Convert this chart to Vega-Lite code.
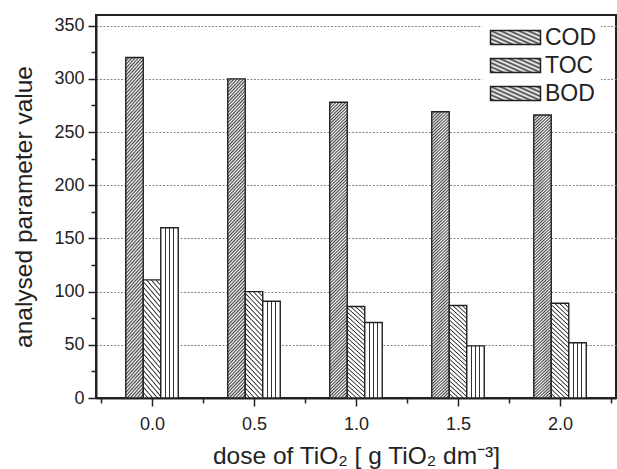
{
  "$schema": "https://vega.github.io/schema/vega-lite/v6.json",
  "width": 520,
  "height": 383,
  "autosize": "none",
  "padding": {"left": 96, "top": 15, "right": 1, "bottom": 71},
  "background": "white",
  "config": {"view": {"stroke": "#222", "strokeWidth": 2}, "font": "Liberation Sans"},
  "params": [
    {"name": "gCOD", "expr": "{id:'hatchCODbar',gradient:'linear',x1:0,y1:0,x2:0.0605,y2:1.0539,stops:[{offset:0,color:'#444'},{offset:0.005,color:'#fff'},{offset:0.01,color:'#444'},{offset:0.015,color:'#fff'},{offset:0.02,color:'#444'},{offset:0.025,color:'#fff'},{offset:0.03,color:'#444'},{offset:0.035,color:'#fff'},{offset:0.04,color:'#444'},{offset:0.045,color:'#fff'},{offset:0.05,color:'#444'},{offset:0.055,color:'#fff'},{offset:0.06,color:'#444'},{offset:0.065,color:'#fff'},{offset:0.07,color:'#444'},{offset:0.075,color:'#fff'},{offset:0.08,color:'#444'},{offset:0.085,color:'#fff'},{offset:0.09,color:'#444'},{offset:0.095,color:'#fff'},{offset:0.1,color:'#444'},{offset:0.105,color:'#fff'},{offset:0.11,color:'#444'},{offset:0.115,color:'#fff'},{offset:0.12,color:'#444'},{offset:0.125,color:'#fff'},{offset:0.13,color:'#444'},{offset:0.135,color:'#fff'},{offset:0.14,color:'#444'},{offset:0.145,color:'#fff'},{offset:0.15,color:'#444'},{offset:0.155,color:'#fff'},{offset:0.16,color:'#444'},{offset:0.165,color:'#fff'},{offset:0.17,color:'#444'},{offset:0.175,color:'#fff'},{offset:0.18,color:'#444'},{offset:0.185,color:'#fff'},{offset:0.19,color:'#444'},{offset:0.195,color:'#fff'},{offset:0.2,color:'#444'},{offset:0.205,color:'#fff'},{offset:0.21,color:'#444'},{offset:0.215,color:'#fff'},{offset:0.22,color:'#444'},{offset:0.225,color:'#fff'},{offset:0.23,color:'#444'},{offset:0.235,color:'#fff'},{offset:0.24,color:'#444'},{offset:0.245,color:'#fff'},{offset:0.25,color:'#444'},{offset:0.255,color:'#fff'},{offset:0.26,color:'#444'},{offset:0.265,color:'#fff'},{offset:0.27,color:'#444'},{offset:0.275,color:'#fff'},{offset:0.28,color:'#444'},{offset:0.285,color:'#fff'},{offset:0.29,color:'#444'},{offset:0.295,color:'#fff'},{offset:0.3,color:'#444'},{offset:0.305,color:'#fff'},{offset:0.31,color:'#444'},{offset:0.315,color:'#fff'},{offset:0.32,color:'#444'},{offset:0.325,color:'#fff'},{offset:0.33,color:'#444'},{offset:0.335,color:'#fff'},{offset:0.34,color:'#444'},{offset:0.345,color:'#fff'},{offset:0.35,color:'#444'},{offset:0.355,color:'#fff'},{offset:0.36,color:'#444'},{offset:0.365,color:'#fff'},{offset:0.37,color:'#444'},{offset:0.375,color:'#fff'},{offset:0.38,color:'#444'},{offset:0.385,color:'#fff'},{offset:0.39,color:'#444'},{offset:0.395,color:'#fff'},{offset:0.4,color:'#444'},{offset:0.405,color:'#fff'},{offset:0.41,color:'#444'},{offset:0.415,color:'#fff'},{offset:0.42,color:'#444'},{offset:0.425,color:'#fff'},{offset:0.43,color:'#444'},{offset:0.435,color:'#fff'},{offset:0.44,color:'#444'},{offset:0.445,color:'#fff'},{offset:0.45,color:'#444'},{offset:0.455,color:'#fff'},{offset:0.46,color:'#444'},{offset:0.465,color:'#fff'},{offset:0.47,color:'#444'},{offset:0.475,color:'#fff'},{offset:0.48,color:'#444'},{offset:0.485,color:'#fff'},{offset:0.49,color:'#444'},{offset:0.495,color:'#fff'},{offset:0.5,color:'#444'},{offset:0.505,color:'#fff'},{offset:0.51,color:'#444'},{offset:0.515,color:'#fff'},{offset:0.52,color:'#444'},{offset:0.525,color:'#fff'},{offset:0.53,color:'#444'},{offset:0.535,color:'#fff'},{offset:0.54,color:'#444'},{offset:0.545,color:'#fff'},{offset:0.55,color:'#444'},{offset:0.555,color:'#fff'},{offset:0.56,color:'#444'},{offset:0.565,color:'#fff'},{offset:0.57,color:'#444'},{offset:0.575,color:'#fff'},{offset:0.58,color:'#444'},{offset:0.585,color:'#fff'},{offset:0.59,color:'#444'},{offset:0.595,color:'#fff'},{offset:0.6,color:'#444'},{offset:0.605,color:'#fff'},{offset:0.61,color:'#444'},{offset:0.615,color:'#fff'},{offset:0.62,color:'#444'},{offset:0.625,color:'#fff'},{offset:0.63,color:'#444'},{offset:0.635,color:'#fff'},{offset:0.64,color:'#444'},{offset:0.645,color:'#fff'},{offset:0.65,color:'#444'},{offset:0.655,color:'#fff'},{offset:0.66,color:'#444'},{offset:0.665,color:'#fff'},{offset:0.67,color:'#444'},{offset:0.675,color:'#fff'},{offset:0.68,color:'#444'},{offset:0.685,color:'#fff'},{offset:0.69,color:'#444'},{offset:0.695,color:'#fff'},{offset:0.7,color:'#444'},{offset:0.705,color:'#fff'},{offset:0.71,color:'#444'},{offset:0.715,color:'#fff'},{offset:0.72,color:'#444'},{offset:0.725,color:'#fff'},{offset:0.73,color:'#444'},{offset:0.735,color:'#fff'},{offset:0.74,color:'#444'},{offset:0.745,color:'#fff'},{offset:0.75,color:'#444'},{offset:0.755,color:'#fff'},{offset:0.76,color:'#444'},{offset:0.765,color:'#fff'},{offset:0.77,color:'#444'},{offset:0.775,color:'#fff'},{offset:0.78,color:'#444'},{offset:0.785,color:'#fff'},{offset:0.79,color:'#444'},{offset:0.795,color:'#fff'},{offset:0.8,color:'#444'},{offset:0.805,color:'#fff'},{offset:0.81,color:'#444'},{offset:0.815,color:'#fff'},{offset:0.82,color:'#444'},{offset:0.825,color:'#fff'},{offset:0.83,color:'#444'},{offset:0.835,color:'#fff'},{offset:0.84,color:'#444'},{offset:0.845,color:'#fff'},{offset:0.85,color:'#444'},{offset:0.855,color:'#fff'},{offset:0.86,color:'#444'},{offset:0.865,color:'#fff'},{offset:0.87,color:'#444'},{offset:0.875,color:'#fff'},{offset:0.88,color:'#444'},{offset:0.885,color:'#fff'},{offset:0.89,color:'#444'},{offset:0.895,color:'#fff'},{offset:0.9,color:'#444'},{offset:0.905,color:'#fff'},{offset:0.91,color:'#444'},{offset:0.915,color:'#fff'},{offset:0.92,color:'#444'},{offset:0.925,color:'#fff'},{offset:0.93,color:'#444'},{offset:0.935,color:'#fff'},{offset:0.94,color:'#444'},{offset:0.945,color:'#fff'},{offset:0.95,color:'#444'},{offset:0.955,color:'#fff'},{offset:0.96,color:'#444'},{offset:0.965,color:'#fff'},{offset:0.97,color:'#444'},{offset:0.975,color:'#fff'},{offset:0.98,color:'#444'},{offset:0.985,color:'#fff'},{offset:0.99,color:'#444'},{offset:0.995,color:'#fff'},{offset:1,color:'#444'}]}"},
    {"name": "gTOC", "expr": "{id:'hatchTOCbar',gradient:'linear',x1:0,y1:1,x2:0.1974,y2:-0.1391,stops:[{offset:0,color:'#222'},{offset:0.01,color:'#fff'},{offset:0.03,color:'#fff'},{offset:0.04,color:'#222'},{offset:0.05,color:'#fff'},{offset:0.07,color:'#fff'},{offset:0.08,color:'#222'},{offset:0.09,color:'#fff'},{offset:0.11,color:'#fff'},{offset:0.12,color:'#222'},{offset:0.13,color:'#fff'},{offset:0.15,color:'#fff'},{offset:0.16,color:'#222'},{offset:0.17,color:'#fff'},{offset:0.19,color:'#fff'},{offset:0.2,color:'#222'},{offset:0.21,color:'#fff'},{offset:0.23,color:'#fff'},{offset:0.24,color:'#222'},{offset:0.25,color:'#fff'},{offset:0.27,color:'#fff'},{offset:0.28,color:'#222'},{offset:0.29,color:'#fff'},{offset:0.31,color:'#fff'},{offset:0.32,color:'#222'},{offset:0.33,color:'#fff'},{offset:0.35,color:'#fff'},{offset:0.36,color:'#222'},{offset:0.37,color:'#fff'},{offset:0.39,color:'#fff'},{offset:0.4,color:'#222'},{offset:0.41,color:'#fff'},{offset:0.43,color:'#fff'},{offset:0.44,color:'#222'},{offset:0.45,color:'#fff'},{offset:0.47,color:'#fff'},{offset:0.48,color:'#222'},{offset:0.49,color:'#fff'},{offset:0.51,color:'#fff'},{offset:0.52,color:'#222'},{offset:0.53,color:'#fff'},{offset:0.55,color:'#fff'},{offset:0.56,color:'#222'},{offset:0.57,color:'#fff'},{offset:0.59,color:'#fff'},{offset:0.6,color:'#222'},{offset:0.61,color:'#fff'},{offset:0.63,color:'#fff'},{offset:0.64,color:'#222'},{offset:0.65,color:'#fff'},{offset:0.67,color:'#fff'},{offset:0.68,color:'#222'},{offset:0.69,color:'#fff'},{offset:0.71,color:'#fff'},{offset:0.72,color:'#222'},{offset:0.73,color:'#fff'},{offset:0.75,color:'#fff'},{offset:0.76,color:'#222'},{offset:0.77,color:'#fff'},{offset:0.79,color:'#fff'},{offset:0.8,color:'#222'},{offset:0.81,color:'#fff'},{offset:0.83,color:'#fff'},{offset:0.84,color:'#222'},{offset:0.85,color:'#fff'},{offset:0.87,color:'#fff'},{offset:0.88,color:'#222'},{offset:0.89,color:'#fff'},{offset:0.91,color:'#fff'},{offset:0.92,color:'#222'},{offset:0.93,color:'#fff'},{offset:0.95,color:'#fff'},{offset:0.96,color:'#222'},{offset:0.97,color:'#fff'},{offset:0.99,color:'#fff'},{offset:1,color:'#222'}]}"},
    {"name": "gBOD", "expr": "{id:'hatchBODbar',gradient:'linear',x1:0,y1:0,x2:1,y2:0,stops:[{offset:0,color:'#fff'},{offset:0.22,color:'#fff'},{offset:0.22,color:'#333'},{offset:0.28,color:'#333'},{offset:0.28,color:'#fff'},{offset:0.47,color:'#fff'},{offset:0.47,color:'#333'},{offset:0.53,color:'#333'},{offset:0.53,color:'#fff'},{offset:0.72,color:'#fff'},{offset:0.72,color:'#333'},{offset:0.78,color:'#333'},{offset:0.78,color:'#fff'},{offset:1,color:'#fff'}]}"},
    {"name": "lgCOD", "expr": "{id:'hatchCODleg',gradient:'linear',x1:0,y1:0,x2:1.1869,y2:0.3323,stops:[{offset:0,color:'#444'},{offset:0.025,color:'#fff'},{offset:0.05,color:'#444'},{offset:0.075,color:'#fff'},{offset:0.1,color:'#444'},{offset:0.125,color:'#fff'},{offset:0.15,color:'#444'},{offset:0.175,color:'#fff'},{offset:0.2,color:'#444'},{offset:0.225,color:'#fff'},{offset:0.25,color:'#444'},{offset:0.275,color:'#fff'},{offset:0.3,color:'#444'},{offset:0.325,color:'#fff'},{offset:0.35,color:'#444'},{offset:0.375,color:'#fff'},{offset:0.4,color:'#444'},{offset:0.425,color:'#fff'},{offset:0.45,color:'#444'},{offset:0.475,color:'#fff'},{offset:0.5,color:'#444'},{offset:0.525,color:'#fff'},{offset:0.55,color:'#444'},{offset:0.575,color:'#fff'},{offset:0.6,color:'#444'},{offset:0.625,color:'#fff'},{offset:0.65,color:'#444'},{offset:0.675,color:'#fff'},{offset:0.7,color:'#444'},{offset:0.725,color:'#fff'},{offset:0.75,color:'#444'},{offset:0.775,color:'#fff'},{offset:0.8,color:'#444'},{offset:0.825,color:'#fff'},{offset:0.85,color:'#444'},{offset:0.875,color:'#fff'},{offset:0.9,color:'#444'},{offset:0.925,color:'#fff'},{offset:0.95,color:'#444'},{offset:0.975,color:'#fff'},{offset:1,color:'#444'}]}"},
    {"name": "lgTOC", "expr": "{id:'hatchTOCleg',gradient:'linear',x1:0,y1:1,x2:1.1869,y2:0.6677,stops:[{offset:0,color:'#222'},{offset:0.025,color:'#fff'},{offset:0.075,color:'#fff'},{offset:0.1,color:'#222'},{offset:0.125,color:'#fff'},{offset:0.175,color:'#fff'},{offset:0.2,color:'#222'},{offset:0.225,color:'#fff'},{offset:0.275,color:'#fff'},{offset:0.3,color:'#222'},{offset:0.325,color:'#fff'},{offset:0.375,color:'#fff'},{offset:0.4,color:'#222'},{offset:0.425,color:'#fff'},{offset:0.475,color:'#fff'},{offset:0.5,color:'#222'},{offset:0.525,color:'#fff'},{offset:0.575,color:'#fff'},{offset:0.6,color:'#222'},{offset:0.625,color:'#fff'},{offset:0.675,color:'#fff'},{offset:0.7,color:'#222'},{offset:0.725,color:'#fff'},{offset:0.775,color:'#fff'},{offset:0.8,color:'#222'},{offset:0.825,color:'#fff'},{offset:0.875,color:'#fff'},{offset:0.9,color:'#222'},{offset:0.925,color:'#fff'},{offset:0.975,color:'#fff'},{offset:1,color:'#222'}]}"},
    {"name": "lgBOD", "expr": "{id:'hatchBODleg',gradient:'linear',x1:0,y1:0,x2:1,y2:0,stops:[{offset:0,color:'#fff'},{offset:0.085,color:'#fff'},{offset:0.085,color:'#222'},{offset:0.115,color:'#222'},{offset:0.115,color:'#fff'},{offset:0.185,color:'#fff'},{offset:0.185,color:'#222'},{offset:0.215,color:'#222'},{offset:0.215,color:'#fff'},{offset:0.285,color:'#fff'},{offset:0.285,color:'#222'},{offset:0.315,color:'#222'},{offset:0.315,color:'#fff'},{offset:0.385,color:'#fff'},{offset:0.385,color:'#222'},{offset:0.415,color:'#222'},{offset:0.415,color:'#fff'},{offset:0.485,color:'#fff'},{offset:0.485,color:'#222'},{offset:0.515,color:'#222'},{offset:0.515,color:'#fff'},{offset:0.585,color:'#fff'},{offset:0.585,color:'#222'},{offset:0.615,color:'#222'},{offset:0.615,color:'#fff'},{offset:0.685,color:'#fff'},{offset:0.685,color:'#222'},{offset:0.715,color:'#222'},{offset:0.715,color:'#fff'},{offset:0.785,color:'#fff'},{offset:0.785,color:'#222'},{offset:0.815,color:'#222'},{offset:0.815,color:'#fff'},{offset:0.885,color:'#fff'},{offset:0.885,color:'#222'},{offset:0.915,color:'#222'},{offset:0.915,color:'#fff'},{offset:1,color:'#fff'}]}"}
  ],
  "data": {
    "values": [
      {"dose": 0.0, "param": "COD", "value": 320},
      {"dose": 0.5, "param": "COD", "value": 300},
      {"dose": 1.0, "param": "COD", "value": 278},
      {"dose": 1.5, "param": "COD", "value": 269},
      {"dose": 2.0, "param": "COD", "value": 266},
      {"dose": 0.0, "param": "TOC", "value": 111},
      {"dose": 0.5, "param": "TOC", "value": 100},
      {"dose": 1.0, "param": "TOC", "value": 86},
      {"dose": 1.5, "param": "TOC", "value": 87},
      {"dose": 2.0, "param": "TOC", "value": 89},
      {"dose": 0.0, "param": "BOD", "value": 160},
      {"dose": 0.5, "param": "BOD", "value": 91},
      {"dose": 1.0, "param": "BOD", "value": 71},
      {"dose": 1.5, "param": "BOD", "value": 49},
      {"dose": 2.0, "param": "BOD", "value": 52}
    ]
  },
  "encoding": {
    "x": {
      "field": "dose", "type": "quantitative",
      "scale": {"domain": [-0.25, 2.25], "nice": false, "zero": false},
      "axis": {
        "values": [-0.25, 0, 0.25, 0.5, 0.75, 1, 1.25, 1.5, 1.75, 2, 2.25],
        "labelExpr": "(datum.value*2) % 1 == 0 ? format(datum.value, '.1f') : ''",
        "tickSize": {"condition": {"test": "(datum.value*2) % 1 == 0", "value": 8}, "value": 5},
        "grid": false,
        "domainColor": "#222", "domainWidth": 2,
        "tickColor": "#222", "tickWidth": 1.5,
        "labelFontSize": 18, "labelColor": "#222", "labelPadding": 9,
        "labelFlush": false, "labelOverlap": false,
        "title": "dose of TiO₂ [ g TiO₂ dm⁻³]",
        "titleFontSize": 24.5, "titleFontWeight": "normal", "titleColor": "#222", "titlePadding": 11
      }
    },
    "y": {
      "field": "value", "type": "quantitative", "stack": null,
      "scale": {"domain": [0, 360], "nice": false},
      "axis": {
        "values": [0, 25, 50, 75, 100, 125, 150, 175, 200, 225, 250, 275, 300, 325, 350],
        "labelExpr": "datum.value % 50 == 0 ? datum.label : ''",
        "tickSize": {"condition": {"test": "datum.value % 50 == 0", "value": 8}, "value": 5},
        "grid": true, "gridColor": "#888", "gridDash": [2, 1.5], "gridWidth": 1,
        "gridOpacity": {"condition": {"test": "datum.value % 50 == 0 && datum.value > 0", "value": 1}, "value": 0},
        "domainColor": "#222", "domainWidth": 2,
        "tickColor": "#222", "tickWidth": 1.5,
        "labelFontSize": 18, "labelColor": "#222", "labelPadding": 4, "labelOverlap": false,
        "title": "analysed parameter value",
        "titleFontSize": 24.5, "titleFontWeight": "normal", "titleColor": "#222", "titlePadding": 17
      }
    },
    "stroke": {
      "field": "param", "type": "nominal",
      "scale": {
        "domain": ["COD", "TOC", "BOD"],
        "range": ["#222", "#222", "#222"]
      },
      "legend": {
        "title": null,
        "orient": "none",
        "legendX": 386,
        "legendY": 7,
        "symbolType": "M-3.57,-1H3.57V1H-3.57Z",
        "symbolSize": 196,
        "symbolOffset": 18,
        "labelOffset": 18,
        "labelFontSize": 23,
        "labelColor": "#222",
        "labelExpr": "datum.label + '  '",
        "rowPadding": 4,
        "padding": 4,
        "fillColor": "#fff",
        "encode": {
          "symbols": {
            "fill": {"value": {"expr": "datum.value === 'BOD' ? lgBOD : (datum.value === 'TOC' ? lgTOC : lgCOD)"}},
            "strokeWidth": {"value": 1.2},
            "opacity": {"value": 1}
          }
        }
      }
    }
  },
  "layer": [
    {"transform": [{"filter": "datum.param == 'COD'"}], "mark": {"type": "bar", "width": 17.5, "xOffset": -17.5, "fill": {"expr": "gCOD"}, "strokeWidth": 1.4}},
    {"transform": [{"filter": "datum.param == 'TOC'"}], "mark": {"type": "bar", "width": 17.5, "xOffset": 0, "fill": {"expr": "gTOC"}, "strokeWidth": 1.4}},
    {"transform": [{"filter": "datum.param == 'BOD'"}], "mark": {"type": "bar", "width": 17.5, "xOffset": 17.5, "fill": {"expr": "gBOD"}, "strokeWidth": 1.4}}
  ]
}
